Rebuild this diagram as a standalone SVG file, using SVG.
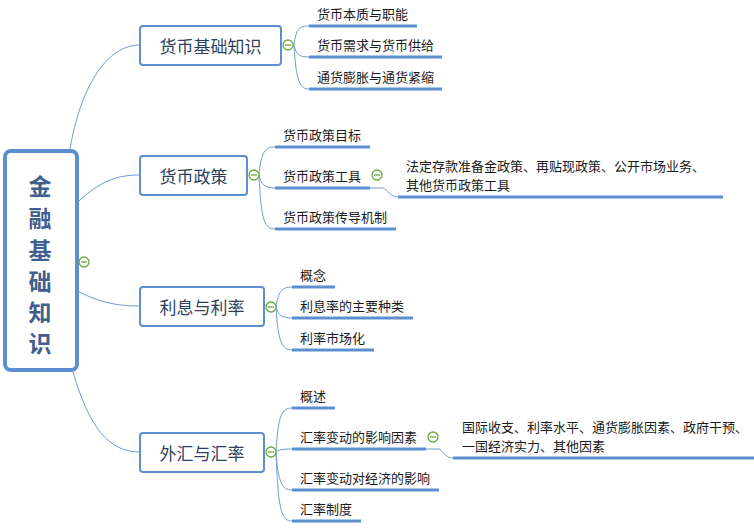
<svg xmlns="http://www.w3.org/2000/svg" width="754" height="529" viewBox="0 0 754 529">
<style>
.conn{fill:none;stroke:#6f9bd8;stroke-width:1}
.ul{stroke:#5b8fd0;stroke-width:3;stroke-linecap:butt}
.l1{fill:#fff;stroke:#5b8fd0;stroke-width:2}
.t1{font-family:"Noto Sans CJK SC","Liberation Sans",sans-serif;font-size:17px;fill:#2e3f5c;text-anchor:middle;dominant-baseline:central}
.t2{font-family:"Noto Sans CJK SC","Liberation Sans",sans-serif;font-size:13px;fill:#1a1a1a}
.root{font-family:"Noto Sans CJK SC","Liberation Sans",sans-serif;font-size:23px;font-weight:bold;fill:#3f5f8f;text-anchor:middle;dominant-baseline:central}
.tog circle{fill:#fff;stroke:#6aaa3a;stroke-width:1.3}
.tog line{stroke:#6aaa3a;stroke-width:1.3}
</style>
<defs>
<g id="toggle" class="tog"><circle cx="0" cy="0" r="5"/><line x1="-3" y1="0" x2="3" y2="0"/></g>
</defs>
<rect width="754" height="529" fill="#fff"/>
<g id="connectors">
<path class="conn" d="M70,149 C80,90 105,45 140,45"/>
<path class="conn" d="M79,201 C100,182 115,175 140,175"/>
<path class="conn" d="M79,292 C100,302 115,306 140,306"/>
<path class="conn" d="M73,372 C90,430 110,452 140,452"/>
<path class="conn" d="M294,45 C296,28 300,26 309,26"/>
<path class="conn" d="M294,45 C296,55 300,57 309,57"/>
<path class="conn" d="M294,45 C296,82 300,89 309,89"/>
<path class="conn" d="M259,175 C261,152 265,147 275,147"/>
<path class="conn" d="M259,175 C261,185 265,188 275,188"/>
<path class="conn" d="M259,175 C261,222 265,229 275,229"/>
<path class="conn" d="M370,188 L383,188 C388,190 390,197 398,197"/>
<path class="conn" d="M276,307 C278,292 282,287 292,287"/>
<path class="conn" d="M276,307 C278,315 282,318 292,318"/>
<path class="conn" d="M276,307 C278,342 282,350 292,350"/>
<path class="conn" d="M276,452 C278,415 282,408 292,408"/>
<path class="conn" d="M276,452 C278,450 282,449 292,449"/>
<path class="conn" d="M276,452 C278,482 282,490 292,490"/>
<path class="conn" d="M276,452 C278,512 282,521 292,521"/>
<path class="conn" d="M426,449 L439,449 C444,452 446,458 453,458"/>
</g>
<g id="root">
<rect x="5" y="151" width="72" height="219" rx="6" fill="#fff" stroke="#5b8fd0" stroke-width="4"/>
<text class="root" x="40" y="185">金</text>
<text class="root" x="40" y="217">融</text>
<text class="root" x="40" y="249">基</text>
<text class="root" x="40" y="280">础</text>
<text class="root" x="40" y="311">知</text>
<text class="root" x="40" y="342">识</text>
<use href="#toggle" x="84" y="262"/>
</g>
<g id="n1">
<rect class="l1" x="140" y="26" width="141" height="39" rx="3"/>
<text class="t1" x="210.5" y="45.5">货币基础知识</text>
<use href="#toggle" x="288" y="45"/>
</g>
<g id="n1a"><line class="ul" x1="309" y1="26" x2="417" y2="26"/><text class="t2" x="317" y="19">货币本质与职能</text></g>
<g id="n1b"><line class="ul" x1="309" y1="57" x2="442" y2="57"/><text class="t2" x="317" y="50">货币需求与货币供给</text></g>
<g id="n1c"><line class="ul" x1="309" y1="89" x2="442" y2="89"/><text class="t2" x="317" y="82">通货膨胀与通货紧缩</text></g>
<g id="n2">
<rect class="l1" x="140" y="156" width="107" height="39" rx="3"/>
<text class="t1" x="193.5" y="175.5">货币政策</text>
<use href="#toggle" x="254" y="175"/>
</g>
<g id="n2a"><line class="ul" x1="275" y1="147" x2="370" y2="147"/><text class="t2" x="283" y="140">货币政策目标</text></g>
<g id="n2b"><line class="ul" x1="275" y1="188" x2="370" y2="188"/><text class="t2" x="283" y="181">货币政策工具</text><use href="#toggle" x="377" y="175"/></g>
<g id="n2b1"><line class="ul" x1="398" y1="197" x2="723" y2="197"/><text class="t2" x="406" y="171">法定存款准备金政策、再贴现政策、公开市场业务、</text><text class="t2" x="406" y="190">其他货币政策工具</text></g>
<g id="n2c"><line class="ul" x1="275" y1="229" x2="396" y2="229"/><text class="t2" x="283" y="222">货币政策传导机制</text></g>
<g id="n3">
<rect class="l1" x="140" y="287" width="124" height="39" rx="3"/>
<text class="t1" x="202" y="306.5">利息与利率</text>
<use href="#toggle" x="271" y="307"/>
</g>
<g id="n3a"><line class="ul" x1="292" y1="287" x2="335" y2="287"/><text class="t2" x="300" y="280">概念</text></g>
<g id="n3b"><line class="ul" x1="292" y1="318" x2="413" y2="318"/><text class="t2" x="300" y="311">利息率的主要种类</text></g>
<g id="n3c"><line class="ul" x1="292" y1="350" x2="374" y2="350"/><text class="t2" x="300" y="343">利率市场化</text></g>
<g id="n4">
<rect class="l1" x="140" y="433" width="124" height="39" rx="3"/>
<text class="t1" x="202" y="452.5">外汇与汇率</text>
<use href="#toggle" x="271" y="452"/>
</g>
<g id="n4a"><line class="ul" x1="292" y1="408" x2="335" y2="408"/><text class="t2" x="300" y="401">概述</text></g>
<g id="n4b"><line class="ul" x1="292" y1="449" x2="426" y2="449"/><text class="t2" x="300" y="442">汇率变动的影响因素</text><use href="#toggle" x="433" y="437"/></g>
<g id="n4b1"><line class="ul" x1="453" y1="458" x2="754" y2="458"/><text class="t2" x="462" y="432">国际收支、利率水平、通货膨胀因素、政府干预、</text><text class="t2" x="462" y="451">一国经济实力、其他因素</text></g>
<g id="n4c"><line class="ul" x1="292" y1="490" x2="439" y2="490"/><text class="t2" x="300" y="483">汇率变动对经济的影响</text></g>
<g id="n4d"><line class="ul" x1="292" y1="521" x2="361" y2="521"/><text class="t2" x="300" y="514">汇率制度</text></g>
</svg>
